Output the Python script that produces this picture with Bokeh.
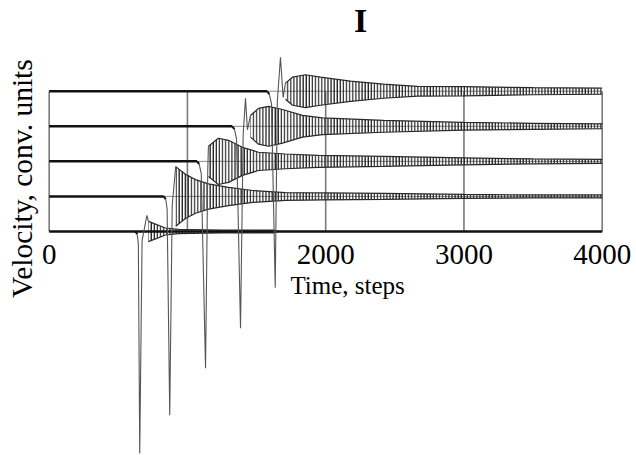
import math
from bokeh.plotting import figure
from bokeh.models import Range1d
from bokeh.core.properties import value
from bokeh.embed import file_html
from bokeh.resources import INLINE

# --- data -------------------------------------------------------------------
# time grid and printed tick labels (1000 carries no label)
grid_times = [0, 1000, 2000, 3000, 4000]
tick_times = [0, 2000, 3000, 4000]
tick_labels = ["0", "2000", "3000", "4000"]

# vertical stacking offset of each run, conv. units
offsets = [0, 1, 2, 3, 4]

# step at which each run leaves its resting level
rest_end = [624, 829, 1070, 1324, 1577]

# impulse path after leaving rest: time and velocity relative to the offset
pulse_t = [
    [637, 645, 655, 672, 707, 718],
    [843, 853, 872, 890, 915],
    [1085, 1100, 1131, 1147, 1152],
    [1340, 1355, 1384, 1403, 1420, 1434, 1456],
    [1592, 1608, 1635, 1650, 1673, 1692, 1709],
]
pulse_v = [
    [-0.08, -0.35, -6.33, -0.25, 0.46, 0.29],
    [-0.08, -0.35, -6.24, -0.25, 0.85],
    [-0.08, -0.35, -5.90, -0.25, 0.43],
    [-0.08, -0.35, -5.76, -0.25, 0.80, -0.10, 0.31],
    [-0.08, -0.35, -5.60, -0.30, 0.97, -0.18, 0.23],
]

# envelope of the ringing that follows each impulse: time and half-amplitude
ring_t = [
    [718, 769, 841, 935, 1239, 1622, 1660],
    [915, 986, 1058, 1152, 1297, 1471, 1709, 1999, 2418, 2997, 3503, 4000],
    [1152, 1224, 1297, 1398, 1514, 1709, 1948, 2418, 2997, 3503, 4000],
    [1456, 1514, 1586, 1688, 1832, 1977, 2418, 2997, 3503, 4000],
    [1709, 1760, 1854, 1962, 2179, 2418, 2664, 2997, 3503, 4000],
]
ring_amp = [
    [0.29, 0.21, 0.10, 0.06, 0.04, 0.04, 0.0],
    [0.85, 0.63, 0.48, 0.36, 0.26, 0.17, 0.11, 0.10, 0.086, 0.057, 0.043, 0.043],
    [0.43, 0.66, 0.60, 0.40, 0.26, 0.21, 0.17, 0.14, 0.10, 0.07, 0.057],
    [0.31, 0.51, 0.57, 0.48, 0.31, 0.24, 0.17, 0.11, 0.086, 0.07],
    [0.23, 0.40, 0.47, 0.40, 0.29, 0.20, 0.14, 0.13, 0.10, 0.086],
]

# --- figure -----------------------------------------------------------------
W, H = 636, 455
p = figure(width=W, height=H, output_backend="svg", toolbar_location=None,
           x_axis_location=None, y_axis_location=None,
           x_range=Range1d(-352, 4248), y_range=Range1d(-6.387, 6.587),
           min_border=0, outline_line_color=None)
p.grid.visible = False
p.background_fill_color = "white"
p.border_fill_color = "white"

serif = value("Liberation Serif")
t_lo, t_hi = grid_times[0], grid_times[-1]
top = offsets[-1]

# frame: vertical grid lines and level lines
for t in grid_times:
    p.line([t, t], [offsets[0], top], line_color="#7a7a7a", line_width=1.6)
for o in offsets[1:]:
    p.line([t_lo, t_hi], [o, o], line_color="#8a8a8a", line_width=1)

# ringing bands
for o, ts, amps in zip(offsets, ring_t, ring_amp):
    lo = [o - a for a in amps]
    hi = [o + a for a in amps]
    p.varea(x=ts, y1=lo, y2=hi, fill_alpha=0, hatch_pattern="|",
            hatch_scale=3.1, hatch_weight=1.4, hatch_color="#262626")
    p.line(ts, hi, line_color="#2a2a2a", line_width=1.2)
    p.line(ts, lo, line_color="#2a2a2a", line_width=1.2)

# resting levels (thick) and the zero axis
p.line([t_lo, t_hi], [offsets[0], offsets[0]], line_color="#111111", line_width=2.5)
for o, te in zip(offsets[1:], rest_end[1:]):
    p.line([t_lo, te], [o, o], line_color="#111111", line_width=2.5)

# impulses
for o, te, ts, vs in zip(offsets, rest_end, pulse_t, pulse_v):
    p.line([te, ts[0]], [o, o + vs[0]], line_color="#111111", line_width=2)
    p.line(ts, [o + v for v in vs], line_color="#555555", line_width=1.1)

# tick labels
p.text(x=tick_times, y=[-0.655] * len(tick_times), text=tick_labels,
       text_font=serif, text_font_size="29px", text_align="center",
       text_baseline="alphabetic", text_color="black")

# axis titles and panel letter
p.text(x=[1745], y=[-1.54], text=["Time, steps"], text_font=serif,
       text_font_size="25px", text_align="left", text_baseline="alphabetic",
       text_color="black")
p.text(x=[-193], y=[1.51], text=["Velocity, conv. units"], text_font=serif,
       text_font_size="29.5px", text_align="center", text_baseline="alphabetic",
       angle=math.pi / 2, text_color="black")
p.text(x=[2252], y=[6.02], text=["I"], text_font=serif, text_font_size="34px",
       text_font_style="bold", text_align="center", text_baseline="alphabetic",
       text_color="black")

open("out.html", "w").write(file_html(p, INLINE))
